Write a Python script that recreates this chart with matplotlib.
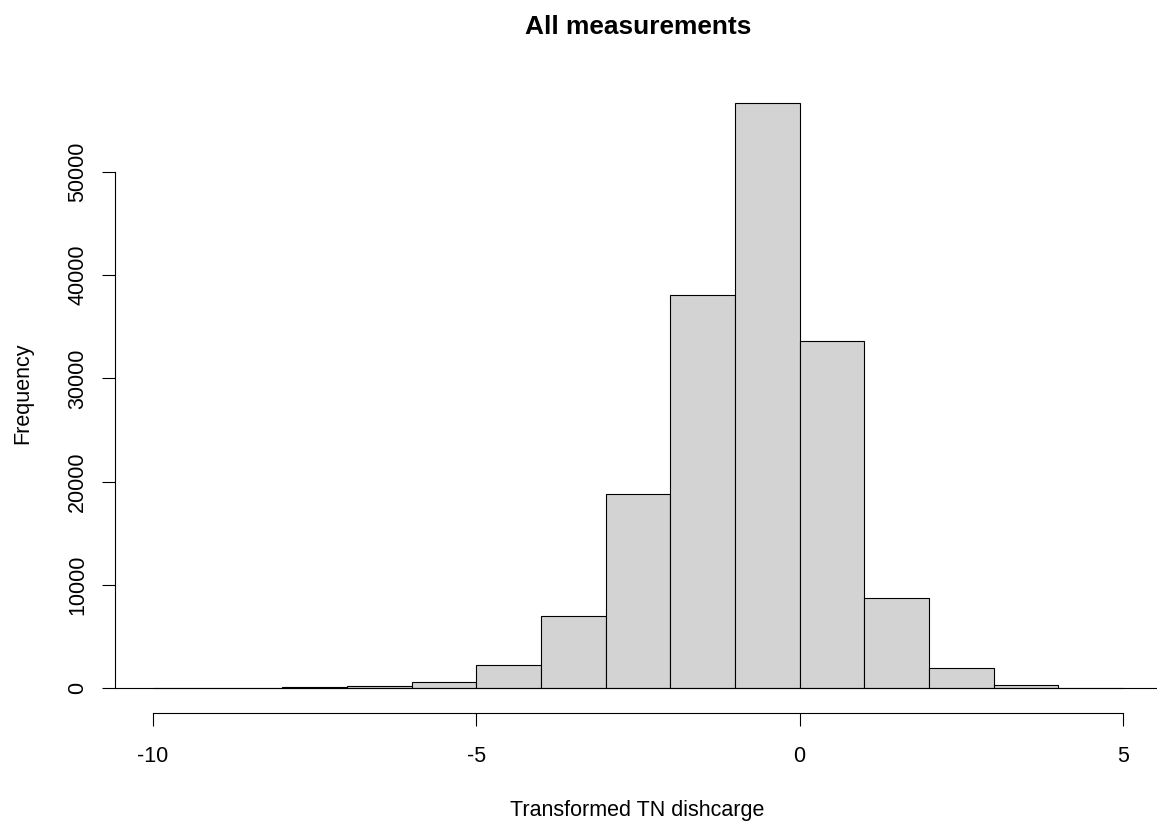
import matplotlib
matplotlib.use("Agg")
import matplotlib.pyplot as plt
import numpy as np

plt.rcParams['font.family'] = ['Liberation Sans', 'DejaVu Sans']

# Data
breaks = np.arange(-10, 6, 1)  # -10 .. 5
counts = [0, 0, 100, 200, 550, 2230, 7000, 18800, 38100, 56700, 33600, 8750, 1950, 250, 0]
x_ticks = [-10, -5, 0, 5]
y_ticks = [0, 10000, 20000, 30000, 40000, 50000]
title = "All measurements"
xlabel = "Transformed TN dishcarge"
ylabel = "Frequency"

W, H = 1157, 822
fig = plt.figure(figsize=(W / 100, H / 100), dpi=100)

left_px, right_px, top_px, bottom_px = 114.5, 1157, 80, 713
ax = fig.add_axes([left_px / W, 1 - bottom_px / H,
                   (right_px - left_px) / W, (bottom_px - top_px) / H])

ax.bar(breaks[:-1], counts, width=np.diff(breaks), align='edge',
       color='#D3D3D3', edgecolor='black', linewidth=0.8, zorder=2)
ax.axhline(0, color='black', linewidth=0.8, zorder=3)

# scales matching the reference layout
px_per_x = (1123 - 153) / 15.0
ax.set_xlim(-10 - (153 - left_px) / px_per_x, 5 + (right_px - 1123) / px_per_x)
units_per_py = 50000 / (688 - 172)
ax.set_ylim(-(bottom_px - 688) * units_per_py, (688 - top_px) * units_per_py)

for s in ['top', 'right']:
    ax.spines[s].set_visible(False)
for s in ['left', 'bottom']:
    ax.spines[s].set_linewidth(0.8)
    ax.spines[s].set_color('black')
ax.spines['bottom'].set_bounds(-10, 5)
ax.spines['left'].set_bounds(0, 50000)

ax.set_xticks(x_ticks)
ax.set_xticklabels([str(v) for v in x_ticks])
ax.set_yticks(y_ticks)
ax.set_yticklabels([str(v) for v in y_ticks], rotation=90, va='center')
ax.tick_params(axis='both', direction='out', length=9.5, width=0.8,
               colors='black', labelsize=15.5)
ax.tick_params(axis='x', pad=14.5)
ax.tick_params(axis='y', pad=9.5)

fig.text(638 / W, 1 - 34.3 / H, title, ha='center', va='baseline',
         fontsize=18.9, fontweight='bold')
fig.text(637.5 / W, 1 - 816 / H, xlabel, ha='center', va='baseline',
         fontsize=15.5)
fig.text(28.7 / W, 1 - 393 / H, ylabel, ha='center', va='baseline',
         fontsize=15.5, rotation=90, rotation_mode='anchor')

fig.savefig("out.png", dpi=100)
